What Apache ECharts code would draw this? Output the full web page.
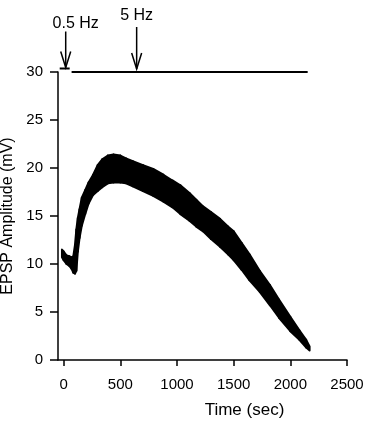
<!DOCTYPE html>
<html>
<head>
<meta charset="utf-8">
<script src="https://cdn.jsdelivr.net/npm/echarts@6/dist/echarts.min.js"></script>
<style>
  html, body { margin: 0; padding: 0; background: #fff; }
  #chart { width: 370px; height: 424px; }
</style>
</head>
<body>
<div id="chart"></div>
<script>
// time (sec) of samples along the band, with its lower and upper edge (mV)
const timeSec = [-15, 0, 25, 50, 70, 85, 100, 112, 125, 140, 160, 190, 220, 260, 300, 340, 390, 440, 500, 550, 610, 700, 790, 880, 960, 1030, 1110, 1170, 1230, 1300, 1380, 1450, 1500, 1570, 1640, 1730, 1820, 1900, 2000, 2080, 2140, 2170];
const ampLow  = [10.7, 10.4, 10.0, 9.8, 9.5, 9.1, 9.0, 9.3, 11.3, 12.7, 14.0, 15.2, 16.3, 17.2, 17.6, 18.0, 18.4, 18.5, 18.5, 18.4, 18.1, 17.6, 17.1, 16.5, 15.9, 15.2, 14.5, 13.9, 13.4, 12.6, 11.8, 11.0, 10.4, 9.4, 8.3, 7.1, 5.7, 4.4, 3.0, 2.1, 1.3, 1.0];
const ampHigh = [11.5, 11.3, 10.9, 10.8, 10.7, 10.8, 12.0, 13.6, 14.8, 15.7, 16.9, 17.7, 18.5, 19.3, 20.3, 20.9, 21.3, 21.4, 21.3, 21.0, 20.7, 20.3, 19.9, 19.3, 18.7, 18.2, 17.4, 16.7, 16.0, 15.4, 14.7, 13.9, 13.4, 12.2, 11.0, 9.3, 7.8, 6.3, 4.5, 3.1, 2.1, 1.4];

// stimulation protocol bars and arrows
const stimStart = [-35, 70];
const stimEnd = [53, 2153];
const arrowTimes = [18, 644];
const stimLabels = ['0.5 Hz', '5 Hz'];
const stimLevel = 30;

const xTicks = [0, 500, 1000, 1500, 2000, 2500];

const FONT = '"Liberation Sans", Arial, sans-serif';

// per-arrow drawing tweaks (pixels)
const barLift = [3.5, 0];
const tipGap = [1, 3];
const arrowLen = [36, 42];
const labelDx = [10, 0];
const labelGap = [8, 11];

const chart = echarts.init(document.getElementById('chart'), null, { renderer: 'canvas' });

// each item is one slice of the band: [t0, lo0, hi0, t1, lo1, hi1]
const bandSlices = [];
for (let i = 0; i < timeSec.length - 1; i++) {
  bandSlices.push([timeSec[i], ampLow[i], ampHigh[i], timeSec[i + 1], ampLow[i + 1], ampHigh[i + 1]]);
}

const option = {
  animation: false,
  backgroundColor: '#fff',
  grid: { left: 58, right: 23, top: 72, bottom: 64, containLabel: false, outerBoundsMode: 'none' },
  xAxis: {
    type: 'value',
    min: -50,
    max: 2500,
    name: 'Time (sec)',
    nameLocation: 'middle',
    nameGap: 42,
    nameTextStyle: { fontFamily: FONT, fontSize: 17, color: '#000', padding: [0, 0, 0, 84] },
    axisLine: { show: true, onZero: false, lineStyle: { color: '#000', width: 1.5 } },
    axisTick: { show: true, length: 6, customValues: xTicks, lineStyle: { color: '#000', width: 1.5 } },
    axisLabel: {
      customValues: xTicks, margin: 17, fontFamily: FONT, fontSize: 15, color: '#000',
      formatter: v => String(v)
    },
    splitLine: { show: false }
  },
  yAxis: {
    type: 'value',
    min: 0,
    max: 30,
    interval: 5,
    name: 'EPSP Amplitude (mV)',
    nameLocation: 'middle',
    nameGap: 35,
    nameTextStyle: { fontFamily: FONT, fontSize: 16, color: '#000' },
    axisLine: { show: true, onZero: false, lineStyle: { color: '#000', width: 1.5 } },
    axisTick: { show: true, length: 8, lineStyle: { color: '#000', width: 1.5 } },
    axisLabel: { margin: 15, fontFamily: FONT, fontSize: 15, color: '#000' },
    splitLine: { show: false }
  },
  series: [
    {
      // the dense cloud of EPSP points, drawn as the band between its edges
      type: 'custom',
      encode: { x: [0, 3], y: [1, 2, 4, 5] },
      data: bandSlices,
      renderItem: function (params, api) {
        const p0lo = api.coord([api.value(0), api.value(1)]);
        const p0hi = api.coord([api.value(0), api.value(2)]);
        const p1lo = api.coord([api.value(3), api.value(4)]);
        const p1hi = api.coord([api.value(3), api.value(5)]);
        return {
          type: 'polygon',
          shape: { points: [p0lo, p0hi, p1hi, p1lo] },
          style: { fill: '#000', stroke: '#000', lineWidth: 2, lineJoin: 'round' }
        };
      },
      z: 3
    },
    {
      type: 'custom',
      clip: false,
      encode: { x: [0, 1, 2], y: 3 },
      data: stimStart.map((s, i) => [s, stimEnd[i], arrowTimes[i], stimLevel]),
      renderItem: function (params, api) {
        const i = params.dataIndex;
        const a = api.coord([api.value(0), api.value(3)]);
        const b = api.coord([api.value(1), api.value(3)]);
        const t = api.coord([api.value(2), api.value(3)]);
        const y = a[1] - barLift[i];
        const tipY = y - tipGap[i];
        const topY = tipY - arrowLen[i];
        const stroke = { stroke: '#000', lineWidth: 1.5, fill: null };
        return {
          type: 'group',
          children: [
            { type: 'line', shape: { x1: a[0], y1: y, x2: b[0], y2: y }, style: { stroke: '#000', lineWidth: 2 } },
            { type: 'line', shape: { x1: t[0], y1: topY, x2: t[0], y2: tipY }, style: stroke },
            { type: 'polyline', shape: { points: [[t[0] - 5, tipY - 16], [t[0], tipY], [t[0] + 5, tipY - 16]] }, style: stroke },
            {
              type: 'text',
              x: t[0] + labelDx[i],
              y: topY - labelGap[i],
              style: {
                text: stimLabels[i],
                font: '16px ' + FONT,
                fill: '#000',
                textAlign: 'center',
                textVerticalAlign: 'middle',
                align: 'center',
                verticalAlign: 'middle'
              }
            }
          ]
        };
      },
      z: 4
    }
  ]
};

chart.setOption(option);
</script>
</body>
</html>
